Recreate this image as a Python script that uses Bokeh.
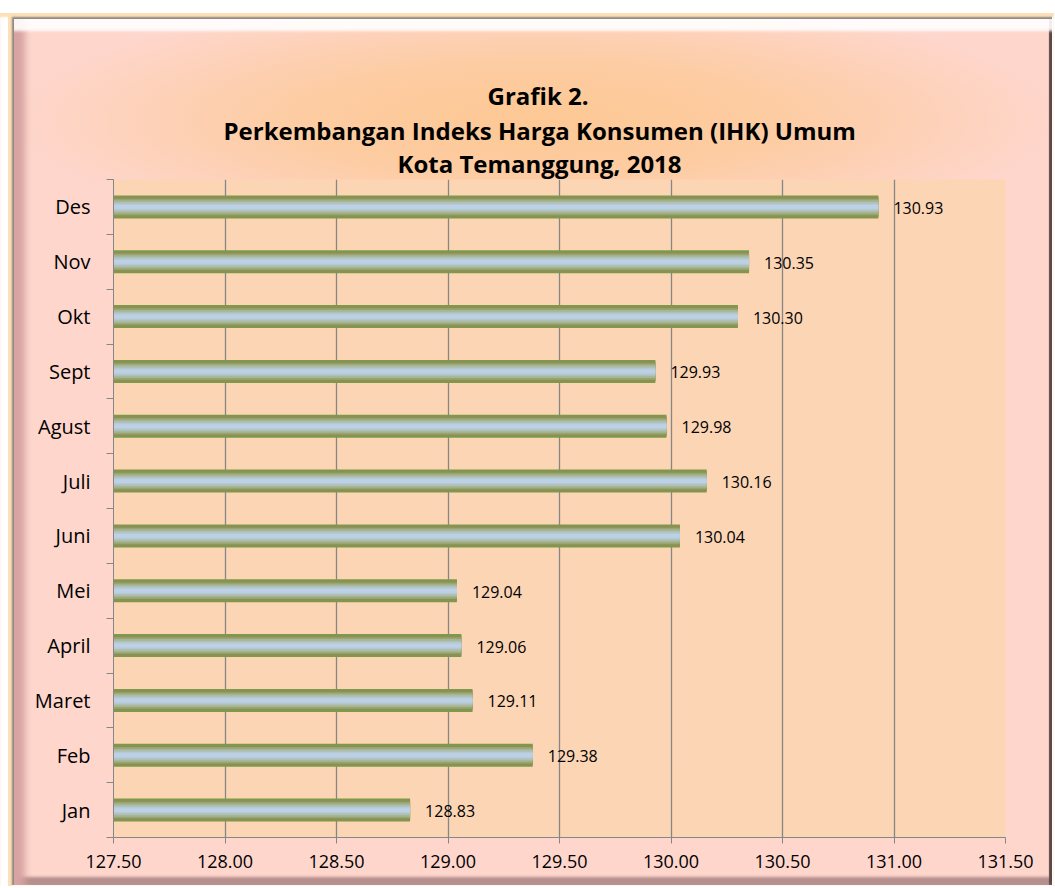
from bokeh.plotting import figure
from bokeh.models import (ColumnDataSource, Range1d, LinearAxis,
                          FixedTicker, NumeralTickFormatter, LabelSet, Title)
from bokeh.core.properties import value
from bokeh.embed import file_html
from bokeh.resources import INLINE

# ---- data ----
months = ["Jan", "Feb", "Maret", "April", "Mei", "Juni", "Juli", "Agust", "Sept", "Okt", "Nov", "Des"]
ihk = [128.83, 129.38, 129.11, 129.06, 129.04, 130.04, 130.16, 129.98, 129.93, 130.30, 130.35, 130.93]
x_ticks = [127.5, 128.0, 128.5, 129.0, 129.5, 130.0, 130.5, 131.0, 131.5]
title_lines = ["Grafik 2.", "Perkembangan Indeks Harga Konsumen (IHK) Umum", "Kota Temanggung, 2018"]

x_min, x_max = x_ticks[0], x_ticks[-1]
n = len(months)
ypos = [i + 0.5 for i in range(n)]          # category slot centres

src = ColumnDataSource(dict(
    y=ypos,
    val=ihk,
    base=[x_min] * n,
    lbl=["%.2f" % v for v in ihk],
))

FONT = "Open Sans"
AX = "#868686"

p = figure(width=1054, height=886,
           x_range=Range1d(x_min, x_max), y_range=Range1d(0, n),
           y_axis_location=None,
           output_backend="svg", toolbar_location=None,
           min_border_left=113, min_border_right=49, min_border_top=179, min_border_bottom=49,
           background_fill_color="#FCD5B5", border_fill_alpha=0, outline_line_color=None)
p.title.visible = False

p.styles = {
    "background": "radial-gradient(ellipse 50% 14% at 51% 13.5%, #FDC894 0%, #FDCCA2 45%, rgba(254,214,204,0) 100%), #FED6CC",
    "box-shadow": ("inset 0 13px 0 0 #ffffff, "
                   "inset 0 17px 2px 0 #fde0b8, "
                   "inset 8px 0 0 0 #ffffff, "
                   "inset 12px 0 2px 0 #fde0b8, "
                   "inset -2px 0 0 0 #ffffff, "
                   "inset 0 -1px 0 0 #ffffff, "
                   "inset 0 19px 0 0 #8d8580, "
                   "inset 14px 0 0 0 #8d8580, "
                   "inset 0 33px 3px -2px rgba(255,255,255,0.9), "
                   "inset 28px 0 7px -3px #d7a3a2, "
                   "inset -5px 0 1px 0 #5d4848, "
                   "inset 0 -9px 3px 0 #b58e8e"),
}

# titles (added bottom line first so it sits closest to the plot);
# left-aligned with offsets so the block is centred on the whole chart
title_style = [(-1, 110), (-2, 377), (2, 374)]   # (standoff, offset) for lines 3, 2, 1
title_style = [(-1, 284), (-2, 110), (2, 374)]
for t, (so, off) in zip(reversed(title_lines), title_style):
    p.add_layout(Title(text=t, align="left", offset=off,
                       text_font=FONT, text_font_size="24px", text_font_style="bold",
                       text_color="#000000", standoff=so), "above")

# bars: layered to mimic gradient fill
layers = [(0.42, "#7E9A49"), (0.36, "#8B8F57"), (0.30, "#97A571"),
          (0.24, "#A7B592"), (0.18, "#AFC1B6"), (0.12, "#B6CAD6"), (0.07, "#BCD0E6")]
for h, c in layers:
    p.hbar(y="y", left="base", right="val", height=h, source=src,
           fill_color=c, line_color=None)

labels = LabelSet(x="val", y="y", text="lbl", source=src, x_offset=15, y_offset=-1,
                  text_baseline="middle", text_font=value(FONT), text_font_size=value("16px"),
                  text_color="#000000")
p.add_layout(labels)

# x axis
xa = p.xaxis[0]
xa.ticker = FixedTicker(ticks=x_ticks)
xa.formatter = NumeralTickFormatter(format="0.00")
xa.major_tick_in = 0
xa.major_tick_out = 6
xa.minor_tick_line_color = None
xa.axis_line_color = AX
xa.major_tick_line_color = AX
xa.major_label_text_font = FONT
xa.major_label_text_font_size = "18px"
xa.major_label_text_color = "#000000"
xa.major_label_standoff = 11

p.xgrid.ticker = FixedTicker(ticks=x_ticks)
p.xgrid.grid_line_color = AX
p.xgrid.grid_line_width = 1.3
p.ygrid.grid_line_color = None

# inner y axis: tick marks at category boundaries
ya_in = LinearAxis(ticker=FixedTicker(ticks=list(range(n + 1))),
                   major_tick_in=0, major_tick_out=7, minor_tick_line_color=None,
                   axis_line_color=AX, major_tick_line_color=AX,
                   major_label_text_font_size="0px", major_label_text_alpha=0,
                   major_label_standoff=0)
p.add_layout(ya_in, "left")

# outer y axis: category labels at slot centres
ya_out = LinearAxis(ticker=FixedTicker(ticks=ypos),
                    major_label_overrides={y: m for y, m in zip(ypos, months)},
                    axis_line_color=None, major_tick_line_color=None, minor_tick_line_color=None,
                    major_label_standoff=10, major_label_text_font=FONT,
                    major_label_text_font_size="20px", major_label_text_color="#000000")
p.add_layout(ya_out, "left")

open("out.html", "w").write(file_html(p, INLINE))
